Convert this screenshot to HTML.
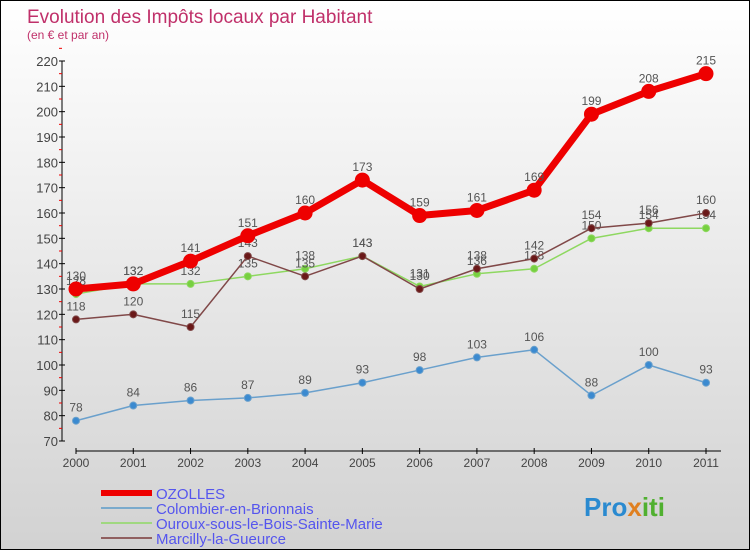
<!DOCTYPE html>
<html><head><meta charset="utf-8"><style>
body{margin:0}
#wrap{width:750px;height:550px;position:relative;overflow:hidden;background:linear-gradient(#ffffff,#d2d2d2);border:1px solid #000;box-sizing:border-box;font-family:"Liberation Sans",sans-serif}
</style></head><body>
<div id="wrap">
<svg id="chart" width="750" height="550"></svg>
</div>
<script>
const years=["2000","2001","2002","2003","2004","2005","2006","2007","2008","2009","2010","2011"];
const ozolles=[130,132,141,151,160,173,159,161,169,199,208,215];
const colombier=[78,84,86,87,89,93,98,103,106,88,100,93];
const ouroux=[128,132,132,135,138,143,131,136,138,150,154,154];
const marcilly=[118,120,115,143,135,143,130,138,142,154,156,160];
const yTicks=[70,80,90,100,110,120,130,140,150,160,170,180,190,200,210,220];
const NS="http://www.w3.org/2000/svg";
const svg=document.getElementById('chart');
function x(i){return 75+i*(630/11);}
function y(v){return 440-(v-70)*(380/150);}
function el(t,a,p){const e=document.createElementNS(NS,t);for(const k in a)e.setAttribute(k,a[k]);(p||svg).appendChild(e);return e;}
let t=el('text',{x:26,y:22,fill:'#c0306a','font-size':19});t.textContent='Evolution des Impôts locaux par Habitant';


t=el('text',{x:26,y:38,fill:'#c0306a','font-size':12});t.textContent='(en € et par an)';


let ax=el('line',{x1:61,y1:60,x2:61,y2:440,stroke:'#000'});


yTicks.forEach(v=>{el('line',{x1:58,y1:y(v),x2:64,y2:y(v),stroke:'#000'});
el('line',{x1:58,y1:y(v+5),x2:61,y2:y(v+5),stroke:'#e00'});
const l=el('text',{x:57,y:y(v)+5,'text-anchor':'end','font-size':13,fill:'#444'});l.textContent=v;

});
ax=el('line',{x1:75,y1:450,x2:720,y2:450,stroke:'#000'});


years.forEach((yr,i)=>{el('line',{x1:x(i),y1:447,x2:x(i),y2:453,stroke:'#000'});
const l=el('text',{x:x(i),y:466,'text-anchor':'middle','font-size':12,fill:'#444'});l.textContent=yr;

});
function series(d,name,col,w,r,dot){
const g=el('g',{});


el('polyline',{points:d.map((v,i)=>x(i)+','+y(v)).join(' '),fill:'none',stroke:col,'stroke-width':w,'stroke-linejoin':'round'},g);
d.forEach((v,i)=>{const c=el('circle',{cx:x(i),cy:y(v),r:r,fill:dot,stroke:col},g);


const l=el('text',{x:x(i),y:y(v)-9,'text-anchor':'middle','font-size':12,fill:'#555'},g);l.textContent=v;

});}
series(colombier,'series-colombier','#6aa0cc',1.5,3.5,'#3b8ad0');
series(ouroux,'series-ouroux','#8ed860',1.5,3.5,'#77d040');
series(marcilly,'series-marcilly','#804848',1.5,3.5,'#6a1818');
series(ozolles,'series-ozolles','#ee0000',7,7,'#ee0000');
const leg=[['OZOLLES','#ee0000',6],['Colombier-en-Brionnais','#7aaacc',2],['Ouroux-sous-le-Bois-Sainte-Marie','#a0d880',2],['Marcilly-la-Gueurce','#906060',2]];
leg.forEach((L,i)=>{const g=el('g',{});


const ly=492+i*15;
el('line',{x1:100,y1:ly,x2:151,y2:ly,stroke:L[1],'stroke-width':L[2]},g);
const tx=el('text',{x:155,y:ly+6,'font-size':15,fill:'#5555ee'},g);tx.textContent=L[0];});
t=el('text',{x:583,y:515,'font-size':26,'font-weight':'bold',fill:'#2a8ad0'});t.textContent='Pro';


const tx2=el('tspan',{fill:'#e08020'},t);tx2.textContent='x';
const tx3=el('tspan',{fill:'#50b030'},t);tx3.textContent='iti';
</script>
</body></html>
